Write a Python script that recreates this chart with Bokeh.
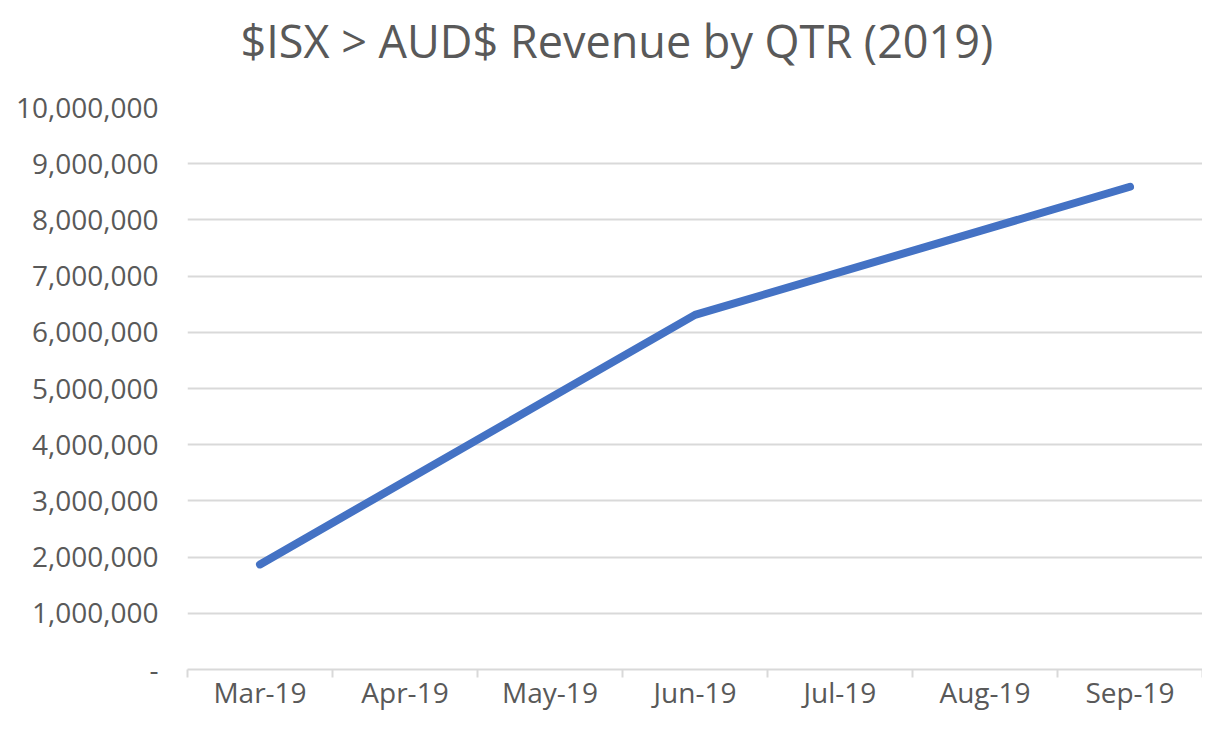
from bokeh.plotting import figure
from bokeh.models import Range1d, FixedTicker, NumeralTickFormatter, Title
from bokeh.embed import file_html
from bokeh.resources import INLINE

# ---- data ----
months = ["Mar-19", "Apr-19", "May-19", "Jun-19", "Jul-19", "Aug-19", "Sep-19"]
quarters = ["Mar-19", "Jun-19", "Sep-19"]
revenue = [1870000, 6310000, 8590000]
y_ticks = [0, 1000000, 2000000, 3000000, 4000000, 5000000,
           6000000, 7000000, 8000000, 9000000, 10000000]
title_text = "$ISX > AUD$ Revenue by QTR (2019)"

TEXT = "#595959"
GRID = "#D9D9D9"
FONT = "Open Sans"

x_pos = [months.index(q) + 0.5 for q in quarters]

p = figure(width=1202, height=713, output_backend="svg", toolbar_location=None,
           x_range=Range1d(0, len(months)), y_range=Range1d(0, 10000000),
           min_border_left=187, min_border_right=0, min_border_top=107,
           min_border_bottom=40)
p.title = None
# spacer between the frame and the title
spacer = Title(text=" ", text_font_size="1px", standoff=34, text_color="white")
p.add_layout(spacer, "above")
t = Title(text=title_text, align="left", text_font=FONT, text_font_size="45px",
          text_font_style="normal", text_color=TEXT, offset=53, standoff=0)
p.add_layout(t, "above")

p.outline_line_color = None
p.background_fill_color = "white"
p.border_fill_color = "white"

p.line(x_pos, revenue, line_width=8, line_color="#4472C4",
       line_cap="round", line_join="round")

# x axis
xa = p.xaxis[0]
xa.ticker = FixedTicker(ticks=[i + 0.5 for i in range(len(months))],
                        minor_ticks=list(range(len(months) + 1)))
xa.major_label_overrides = {i + 0.5: m for i, m in enumerate(months)}
xa.major_tick_line_color = None
xa.major_tick_out = 0
xa.major_tick_in = 0
xa.minor_tick_line_color = GRID
xa.minor_tick_line_width = 2
xa.minor_tick_out = 8
xa.minor_tick_in = 0
xa.axis_line_color = GRID
xa.axis_line_width = 2
xa.major_label_text_font = FONT
xa.major_label_text_font_size = "28px"
xa.major_label_text_color = TEXT
xa.major_label_standoff = -5

# y axis
ya = p.yaxis[0]
ya.ticker = FixedTicker(ticks=y_ticks)
ya.formatter = NumeralTickFormatter(format="0,0")
ya.major_label_overrides = {0: "-"}
ya.axis_line_color = None
ya.major_tick_line_color = None
ya.minor_tick_line_color = None
ya.major_tick_out = 0
ya.major_label_text_font = FONT
ya.major_label_text_font_size = "28px"
ya.major_label_text_color = TEXT
ya.major_label_standoff = 29

p.xgrid.grid_line_color = None
p.ygrid.grid_line_color = GRID
p.ygrid.grid_line_width = 2

open("out.html", "w").write(file_html(p, INLINE))
